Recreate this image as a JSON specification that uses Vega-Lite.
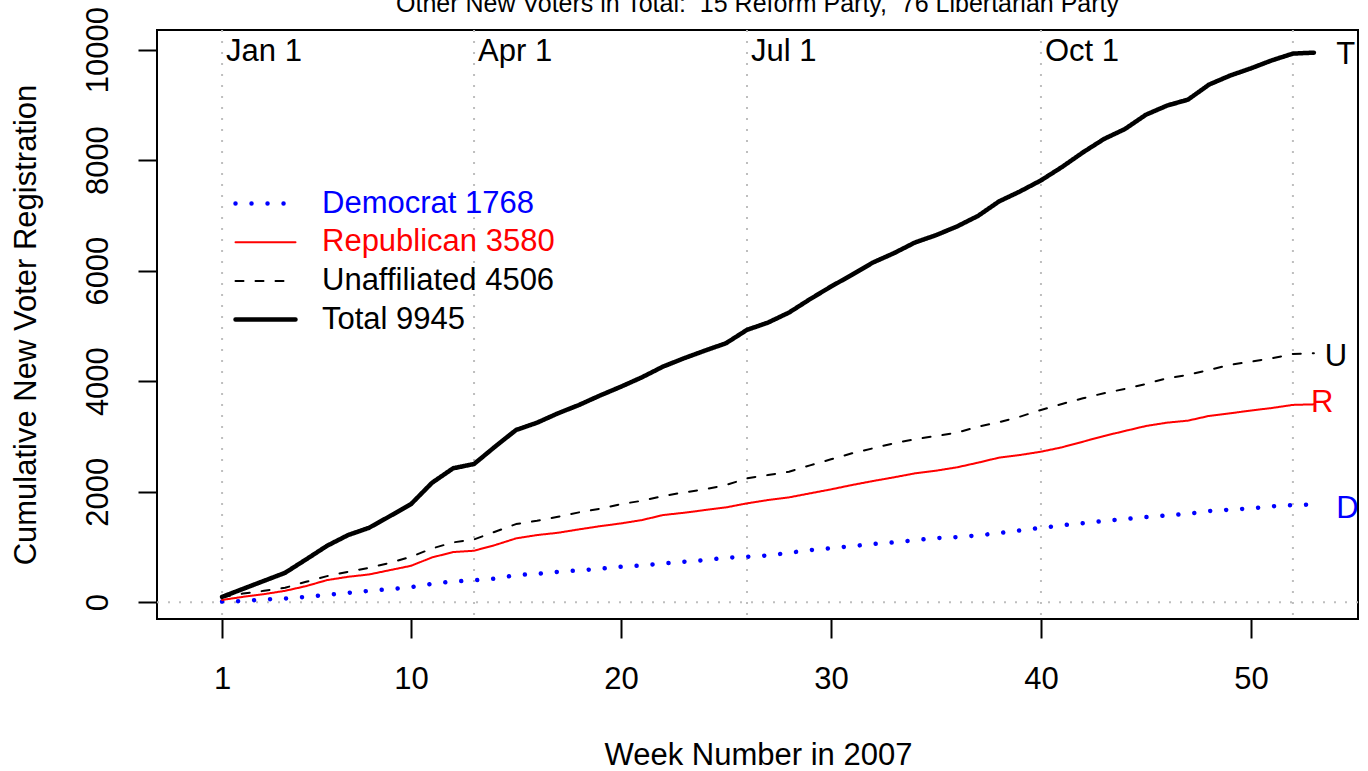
{
  "$schema": "https://vega.github.io/schema/vega-lite/v6.json",
  "width": 1201,
  "height": 589,
  "autosize": {"type": "none"},
  "padding": {"left": 157, "top": 30, "right": 10, "bottom": 152},
  "background": "white",
  "config": {
    "font": "Liberation Sans",
    "view": {"stroke": "black", "strokeWidth": 2},
    "axis": {"domain": false, "grid": false, "tickColor": "black", "tickWidth": 2, "tickSize": 19, "labelColor": "black", "labelFontSize": 31, "labelFont": "Liberation Sans", "titleFont": "Liberation Sans", "titleFontSize": 31, "titleFontWeight": "normal", "titleColor": "black", "labelFlush": false, "labelOverlap": false}
  },
  "title": {"text": "Other New Voters in Total:\u00a0 15 Reform Party,\u00a0 76 Libertarian Party", "fontSize": 25, "fontWeight": "normal", "font": "Liberation Sans", "color": "black", "anchor": "middle", "frame": "group", "baseline": "alphabetic", "offset": -30},
  "datasets": {
    "series": [
      {"week":1,"series":"Democrat 1768","value":10},{"week":2,"series":"Democrat 1768","value":20},{"week":3,"series":"Democrat 1768","value":50},{"week":4,"series":"Democrat 1768","value":66},{"week":5,"series":"Democrat 1768","value":96},{"week":6,"series":"Democrat 1768","value":133},{"week":7,"series":"Democrat 1768","value":169},{"week":8,"series":"Democrat 1768","value":205},{"week":9,"series":"Democrat 1768","value":235},{"week":10,"series":"Democrat 1768","value":272},{"week":11,"series":"Democrat 1768","value":332},{"week":12,"series":"Democrat 1768","value":374},{"week":13,"series":"Democrat 1768","value":395},{"week":14,"series":"Democrat 1768","value":425},{"week":15,"series":"Democrat 1768","value":489},{"week":16,"series":"Democrat 1768","value":513},{"week":17,"series":"Democrat 1768","value":549},{"week":18,"series":"Democrat 1768","value":574},{"week":19,"series":"Democrat 1768","value":605},{"week":20,"series":"Democrat 1768","value":640},{"week":21,"series":"Democrat 1768","value":664},{"week":22,"series":"Democrat 1768","value":700},{"week":23,"series":"Democrat 1768","value":731},{"week":24,"series":"Democrat 1768","value":761},{"week":25,"series":"Democrat 1768","value":803},{"week":26,"series":"Democrat 1768","value":821},{"week":27,"series":"Democrat 1768","value":845},{"week":28,"series":"Democrat 1768","value":894},{"week":29,"series":"Democrat 1768","value":942},{"week":30,"series":"Democrat 1768","value":978},{"week":31,"series":"Democrat 1768","value":1014},{"week":32,"series":"Democrat 1768","value":1051},{"week":33,"series":"Democrat 1768","value":1081},{"week":34,"series":"Democrat 1768","value":1123},{"week":35,"series":"Democrat 1768","value":1159},{"week":36,"series":"Democrat 1768","value":1177},{"week":37,"series":"Democrat 1768","value":1208},{"week":38,"series":"Democrat 1768","value":1250},{"week":39,"series":"Democrat 1768","value":1300},{"week":40,"series":"Democrat 1768","value":1345},{"week":41,"series":"Democrat 1768","value":1390},{"week":42,"series":"Democrat 1768","value":1430},{"week":43,"series":"Democrat 1768","value":1470},{"week":44,"series":"Democrat 1768","value":1505},{"week":45,"series":"Democrat 1768","value":1540},{"week":46,"series":"Democrat 1768","value":1570},{"week":47,"series":"Democrat 1768","value":1600},{"week":48,"series":"Democrat 1768","value":1649},{"week":49,"series":"Democrat 1768","value":1674},{"week":50,"series":"Democrat 1768","value":1697},{"week":51,"series":"Democrat 1768","value":1734},{"week":52,"series":"Democrat 1768","value":1757},{"week":53,"series":"Democrat 1768","value":1768},
      {"week":1,"series":"Republican 3580","value":40},{"week":2,"series":"Republican 3580","value":96},{"week":3,"series":"Republican 3580","value":145},{"week":4,"series":"Republican 3580","value":205},{"week":5,"series":"Republican 3580","value":290},{"week":6,"series":"Republican 3580","value":399},{"week":7,"series":"Republican 3580","value":459},{"week":8,"series":"Republican 3580","value":501},{"week":9,"series":"Republican 3580","value":580},{"week":10,"series":"Republican 3580","value":658},{"week":11,"series":"Republican 3580","value":810},{"week":12,"series":"Republican 3580","value":906},{"week":13,"series":"Republican 3580","value":930},{"week":14,"series":"Republican 3580","value":1033},{"week":15,"series":"Republican 3580","value":1154},{"week":16,"series":"Republican 3580","value":1214},{"week":17,"series":"Republican 3580","value":1256},{"week":18,"series":"Republican 3580","value":1317},{"week":19,"series":"Republican 3580","value":1375},{"week":20,"series":"Republican 3580","value":1425},{"week":21,"series":"Republican 3580","value":1486},{"week":22,"series":"Republican 3580","value":1576},{"week":23,"series":"Republican 3580","value":1618},{"week":24,"series":"Republican 3580","value":1667},{"week":25,"series":"Republican 3580","value":1715},{"week":26,"series":"Republican 3580","value":1788},{"week":27,"series":"Republican 3580","value":1848},{"week":28,"series":"Republican 3580","value":1896},{"week":29,"series":"Republican 3580","value":1969},{"week":30,"series":"Republican 3580","value":2041},{"week":31,"series":"Republican 3580","value":2120},{"week":32,"series":"Republican 3580","value":2192},{"week":33,"series":"Republican 3580","value":2259},{"week":34,"series":"Republican 3580","value":2331},{"week":35,"series":"Republican 3580","value":2379},{"week":36,"series":"Republican 3580","value":2440},{"week":37,"series":"Republican 3580","value":2524},{"week":38,"series":"Republican 3580","value":2615},{"week":39,"series":"Republican 3580","value":2663},{"week":40,"series":"Republican 3580","value":2723},{"week":41,"series":"Republican 3580","value":2802},{"week":42,"series":"Republican 3580","value":2904},{"week":43,"series":"Republican 3580","value":3007},{"week":44,"series":"Republican 3580","value":3098},{"week":45,"series":"Republican 3580","value":3188},{"week":46,"series":"Republican 3580","value":3248},{"week":47,"series":"Republican 3580","value":3285},{"week":48,"series":"Republican 3580","value":3370},{"week":49,"series":"Republican 3580","value":3418},{"week":50,"series":"Republican 3580","value":3467},{"week":51,"series":"Republican 3580","value":3514},{"week":52,"series":"Republican 3580","value":3570},{"week":53,"series":"Republican 3580","value":3580},
      {"week":1,"series":"Unaffiliated 4506","value":90},{"week":2,"series":"Unaffiliated 4506","value":157},{"week":3,"series":"Unaffiliated 4506","value":205},{"week":4,"series":"Unaffiliated 4506","value":260},{"week":5,"series":"Unaffiliated 4506","value":368},{"week":6,"series":"Unaffiliated 4506","value":471},{"week":7,"series":"Unaffiliated 4506","value":549},{"week":8,"series":"Unaffiliated 4506","value":622},{"week":9,"series":"Unaffiliated 4506","value":712},{"week":10,"series":"Unaffiliated 4506","value":821},{"week":11,"series":"Unaffiliated 4506","value":972},{"week":12,"series":"Unaffiliated 4506","value":1081},{"week":13,"series":"Unaffiliated 4506","value":1135},{"week":14,"series":"Unaffiliated 4506","value":1274},{"week":15,"series":"Unaffiliated 4506","value":1413},{"week":16,"series":"Unaffiliated 4506","value":1473},{"week":17,"series":"Unaffiliated 4506","value":1545},{"week":18,"series":"Unaffiliated 4506","value":1625},{"week":19,"series":"Unaffiliated 4506","value":1690},{"week":20,"series":"Unaffiliated 4506","value":1775},{"week":21,"series":"Unaffiliated 4506","value":1835},{"week":22,"series":"Unaffiliated 4506","value":1920},{"week":23,"series":"Unaffiliated 4506","value":1987},{"week":24,"series":"Unaffiliated 4506","value":2041},{"week":25,"series":"Unaffiliated 4506","value":2120},{"week":26,"series":"Unaffiliated 4506","value":2241},{"week":27,"series":"Unaffiliated 4506","value":2301},{"week":28,"series":"Unaffiliated 4506","value":2361},{"week":29,"series":"Unaffiliated 4506","value":2476},{"week":30,"series":"Unaffiliated 4506","value":2585},{"week":31,"series":"Unaffiliated 4506","value":2694},{"week":32,"series":"Unaffiliated 4506","value":2784},{"week":33,"series":"Unaffiliated 4506","value":2875},{"week":34,"series":"Unaffiliated 4506","value":2947},{"week":35,"series":"Unaffiliated 4506","value":3007},{"week":36,"series":"Unaffiliated 4506","value":3067},{"week":37,"series":"Unaffiliated 4506","value":3176},{"week":38,"series":"Unaffiliated 4506","value":3255},{"week":39,"series":"Unaffiliated 4506","value":3357},{"week":40,"series":"Unaffiliated 4506","value":3478},{"week":41,"series":"Unaffiliated 4506","value":3587},{"week":42,"series":"Unaffiliated 4506","value":3690},{"week":43,"series":"Unaffiliated 4506","value":3781},{"week":44,"series":"Unaffiliated 4506","value":3859},{"week":45,"series":"Unaffiliated 4506","value":3949},{"week":46,"series":"Unaffiliated 4506","value":4052},{"week":47,"series":"Unaffiliated 4506","value":4112},{"week":48,"series":"Unaffiliated 4506","value":4203},{"week":49,"series":"Unaffiliated 4506","value":4293},{"week":50,"series":"Unaffiliated 4506","value":4353},{"week":51,"series":"Unaffiliated 4506","value":4414},{"week":52,"series":"Unaffiliated 4506","value":4490},{"week":53,"series":"Unaffiliated 4506","value":4506},
      {"week":1,"series":"Total 9945","value":96},{"week":2,"series":"Total 9945","value":241},{"week":3,"series":"Total 9945","value":386},{"week":4,"series":"Total 9945","value":531},{"week":5,"series":"Total 9945","value":773},{"week":6,"series":"Total 9945","value":1020},{"week":7,"series":"Total 9945","value":1214},{"week":8,"series":"Total 9945","value":1346},{"week":9,"series":"Total 9945","value":1558},{"week":10,"series":"Total 9945","value":1775},{"week":11,"series":"Total 9945","value":2161},{"week":12,"series":"Total 9945","value":2422},{"week":13,"series":"Total 9945","value":2500},{"week":14,"series":"Total 9945","value":2814},{"week":15,"series":"Total 9945","value":3116},{"week":16,"series":"Total 9945","value":3248},{"week":17,"series":"Total 9945","value":3418},{"week":18,"series":"Total 9945","value":3569},{"week":19,"series":"Total 9945","value":3740},{"week":20,"series":"Total 9945","value":3900},{"week":21,"series":"Total 9945","value":4070},{"week":22,"series":"Total 9945","value":4263},{"week":23,"series":"Total 9945","value":4414},{"week":24,"series":"Total 9945","value":4553},{"week":25,"series":"Total 9945","value":4686},{"week":26,"series":"Total 9945","value":4928},{"week":27,"series":"Total 9945","value":5060},{"week":28,"series":"Total 9945","value":5241},{"week":29,"series":"Total 9945","value":5483},{"week":30,"series":"Total 9945","value":5712},{"week":31,"series":"Total 9945","value":5924},{"week":32,"series":"Total 9945","value":6147},{"week":33,"series":"Total 9945","value":6316},{"week":34,"series":"Total 9945","value":6509},{"week":35,"series":"Total 9945","value":6642},{"week":36,"series":"Total 9945","value":6799},{"week":37,"series":"Total 9945","value":6990},{"week":38,"series":"Total 9945","value":7252},{"week":39,"series":"Total 9945","value":7433},{"week":40,"series":"Total 9945","value":7633},{"week":41,"series":"Total 9945","value":7875},{"week":42,"series":"Total 9945","value":8140},{"week":43,"series":"Total 9945","value":8382},{"week":44,"series":"Total 9945","value":8563},{"week":45,"series":"Total 9945","value":8822},{"week":46,"series":"Total 9945","value":8986},{"week":47,"series":"Total 9945","value":9094},{"week":48,"series":"Total 9945","value":9366},{"week":49,"series":"Total 9945","value":9529},{"week":50,"series":"Total 9945","value":9661},{"week":51,"series":"Total 9945","value":9806},{"week":52,"series":"Total 9945","value":9928},{"week":53,"series":"Total 9945","value":9945}
    ],
    "vlines": [{"week":1},{"week":13},{"week":26},{"week":40},{"week":52}],
    "hlines": [{"value":0}],
    "dates": [{"week":1,"value":10000,"label":"Jan 1"},{"week":13,"value":10000,"label":"Apr 1"},{"week":26,"value":10000,"label":"Jul 1"},{"week":40,"value":10000,"label":"Oct 1"}],
    "ends": [
      {"week":54.52,"value":9940,"label":"T","series":"Total 9945"},
      {"week":54.05,"value":4490,"label":"U","series":"Unaffiliated 4506"},
      {"week":53.4,"value":3650,"label":"R","series":"Republican 3580"},
      {"week":54.6,"value":1730,"label":"D","series":"Democrat 1768"}
    ]
  },
  "layer": [
    {
      "data": {"name": "vlines"},
      "mark": {"type": "rule", "color": "#BEBEBE", "strokeWidth": 2, "strokeDash": [2, 9]},
      "encoding": {
        "x": {"field": "week", "type": "quantitative", "scale": {"domain": [-2.1, 55.1], "nice": false, "zero": false},
          "axis": {"values": [1, 10, 20, 30, 40, 50], "title": "Week Number in 2007", "labelBaseline": "alphabetic", "labelPadding": 50, "titleX": 601, "titleY": 145, "titleBaseline": "alphabetic", "titleAlign": "center", "titleAnchor": null}}
      }
    },
    {
      "data": {"name": "hlines"},
      "mark": {"type": "rule", "color": "#BEBEBE", "strokeWidth": 2, "strokeDash": [2, 9]},
      "encoding": {
        "y": {"field": "value", "type": "quantitative", "scale": {"domain": [-305, 10355], "nice": false, "zero": false},
          "axis": {"values": [0, 2000, 4000, 6000, 8000, 10000], "format": "d", "title": "Cumulative New Voter Registration", "labelAngle": 270, "labelAlign": "center", "labelBaseline": "alphabetic", "labelPadding": 31, "titleAngle": 270, "titleX": -122, "titleY": 294.5, "titleBaseline": "alphabetic", "titleAlign": "center", "titleAnchor": null}}
      }
    },
    {
      "data": {"name": "series"},
      "mark": {"type": "line", "strokeCap": "round", "strokeJoin": "round"},
      "encoding": {
        "x": {"field": "week", "type": "quantitative"},
        "y": {"field": "value", "type": "quantitative"},
        "color": {"field": "series", "type": "nominal",
          "scale": {"domain": ["Democrat 1768", "Republican 3580", "Unaffiliated 4506", "Total 9945"], "range": ["#0000FF", "#FF0000", "#000000", "#000000"]},
          "legend": {"title": null, "orient": "none", "legendX": 93, "legendY": 158, "padding": 0, "labelFontSize": 31, "labelFont": "Liberation Sans", "labelLimit": 0, "symbolType": "M-3,0H3", "symbolSize": 400, "labelOffset": 41, "rowPadding": 6.7,
            "encode": {"labels": {"update": {"fill": {"signal": "datum.value === 'Democrat 1768' ? '#0000FF' : datum.value === 'Republican 3580' ? '#FF0000' : '#000000'"}}}, "symbols": {"update": {"strokeCap": {"value": "round"}}}}}},
        "strokeDash": {"field": "series", "type": "nominal",
          "scale": {"domain": ["Democrat 1768", "Republican 3580", "Unaffiliated 4506", "Total 9945"], "range": [[0.01, 16], [1, 0], [8, 12], [1, 0]]}},
        "strokeWidth": {"field": "series", "type": "nominal",
          "scale": {"type": "ordinal", "domain": ["Democrat 1768", "Republican 3580", "Unaffiliated 4506", "Total 9945"], "range": [4.5, 2, 2, 4.5]}}
      }
    },
    {
      "data": {"name": "dates"},
      "mark": {"type": "text", "align": "left", "baseline": "alphabetic", "dx": 4, "dy": 11, "fontSize": 31, "font": "Liberation Sans", "color": "black"},
      "encoding": {
        "x": {"field": "week", "type": "quantitative"},
        "y": {"field": "value", "type": "quantitative"},
        "text": {"field": "label"}
      }
    },
    {
      "data": {"name": "ends"},
      "mark": {"type": "text", "align": "center", "baseline": "alphabetic", "dy": 11.5, "fontSize": 31, "font": "Liberation Sans"},
      "encoding": {
        "x": {"field": "week", "type": "quantitative"},
        "y": {"field": "value", "type": "quantitative"},
        "text": {"field": "label"},
        "fill": {"field": "series", "type": "nominal", "legend": null,
          "scale": {"domain": ["Democrat 1768", "Republican 3580", "Unaffiliated 4506", "Total 9945"], "range": ["#0000FF", "#FF0000", "#000000", "#000000"]}}
      }
    }
  ]
}
